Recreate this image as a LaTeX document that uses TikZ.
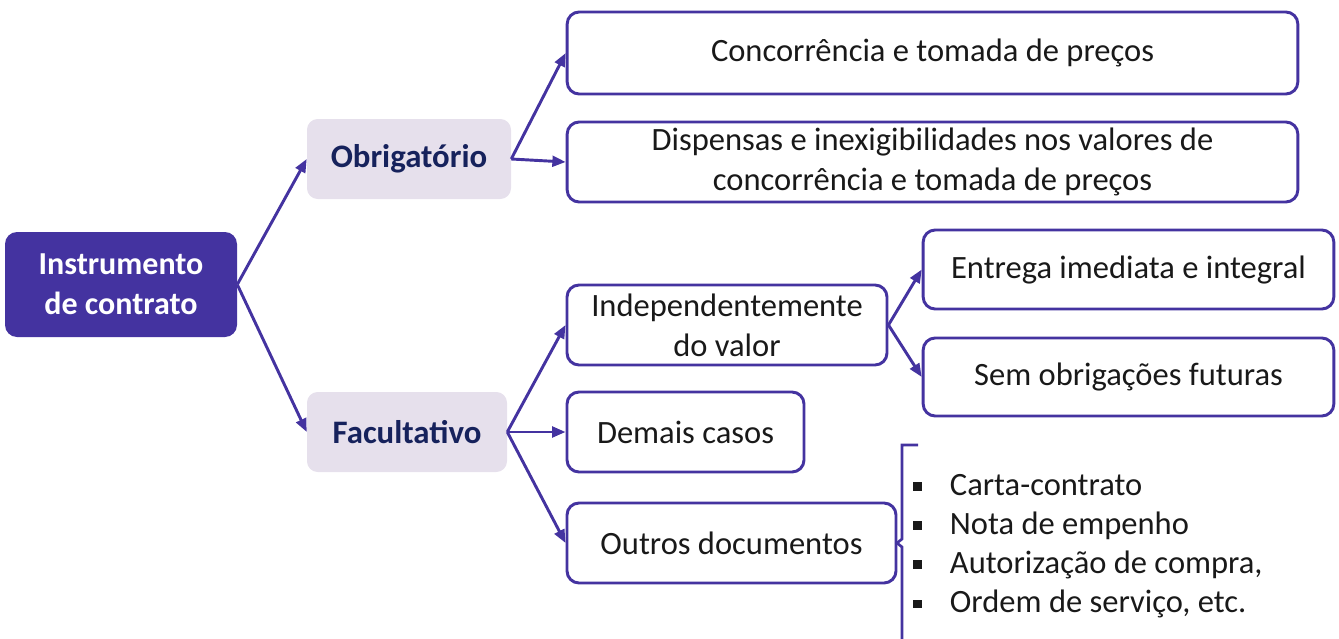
\documentclass[tikz,border=0pt]{standalone}
\usepackage{fontspec}
\setmainfont{Carlito}
\usetikzlibrary{arrows.meta,positioning}
\definecolor{rootpurple}{RGB}{68,51,160}
\definecolor{lavender}{RGB}{230,224,236}
\definecolor{navytext}{RGB}{22,34,92}

\begin{document}
\begin{tikzpicture}[x=0.75pt,y=-0.75pt,
  rootbox/.style={rounded corners=9pt, fill=rootpurple, text=white,
    font=\fontsize{24}{30}\selectfont\bfseries, align=center, inner sep=0pt},
  catbox/.style={rounded corners=8pt, fill=lavender, text=navytext,
    font=\fontsize{24.6}{30}\selectfont\bfseries, align=center, inner sep=0pt},
  leafbox/.style={rounded corners=9pt, draw=rootpurple, line width=2.2pt,
    fill=white, text=black!90, font=\fontsize{24.4}{30}\selectfont,
    align=center, inner sep=0pt},
  link/.style={rootpurple, line width=2.2pt, -{Triangle[length=10pt,width=8pt]}}]
  \useasboundingbox (0,0) rectangle (1339,639);

  \node[rootbox, minimum width=174pt, minimum height=78.75pt] (root)
    at (121,284.5) {Instrumento\\de contrato};
  \node[catbox, minimum width=153pt, minimum height=60pt] (obrig)
    at (409,159) {Obrigatório};
  \node[catbox, minimum width=150pt, minimum height=60pt] (facult)
    at (407,432) {Facultativo};

  \node[leafbox, minimum width=548pt, minimum height=61.5pt] (conc)
    at (932.5,53) {Concorrência e tomada de preços};
  \node[leafbox, minimum width=548pt, minimum height=60pt] (disp)
    at (932.5,162) {Dispensas e inexigibilidades nos valores de\\concorrência e tomada de preços};
  \node[leafbox, minimum width=240pt, minimum height=60pt] (indep)
    at (727,325) {Independentemente\\do valor};
  \node[leafbox, minimum width=177.75pt, minimum height=60pt] (demais)
    at (685.5,432) {Demais casos};
  \node[leafbox, minimum width=246.75pt, minimum height=60pt] (outros)
    at (731.5,543) {Outros documentos};
  \node[leafbox, minimum width=308pt, minimum height=59.25pt] (entrega)
    at (1128.5,269.5) {Entrega imediata e integral};
  \node[leafbox, minimum width=308pt, minimum height=58.5pt] (sem)
    at (1128.5,377) {Sem obrigações futuras};

  \draw[link] (root.east) -- (obrig.west);
  \draw[link] (root.east) -- (facult.west);
  \draw[link] (obrig.east) -- (conc.west);
  \draw[link] (obrig.east) -- (disp.west);
  \draw[link] (facult.east) -- (indep.west);
  \draw[link] (facult.east) -- (demais.west);
  \draw[link] (facult.east) -- (outros.west);
  \draw[link] (indep.east) -- (entrega.west);
  \draw[link] (indep.east) -- (sem.west);

  % bracket and list
  \draw[rootpurple, line width=2pt]
    (918,445) -- (902,445) -- (902,539) -- (897,543) -- (902,547) -- (902,645);
  \node[anchor=north west, align=left, inner sep=0pt, text=black!90,
    font=\fontsize{24.4}{29.4}\selectfont] (lista) at (913,474)
    {\raisebox{3.5pt}{\rule{6.5pt}{6.5pt}}\hspace{21pt}Carta-contrato\\
     \raisebox{3.5pt}{\rule{6.5pt}{6.5pt}}\hspace{21pt}Nota de empenho\\
     \raisebox{3.5pt}{\rule{6.5pt}{6.5pt}}\hspace{21pt}Autorização de compra,\\
     \raisebox{3.5pt}{\rule{6.5pt}{6.5pt}}\hspace{21pt}Ordem de serviço, etc.};
\end{tikzpicture}
\end{document}
